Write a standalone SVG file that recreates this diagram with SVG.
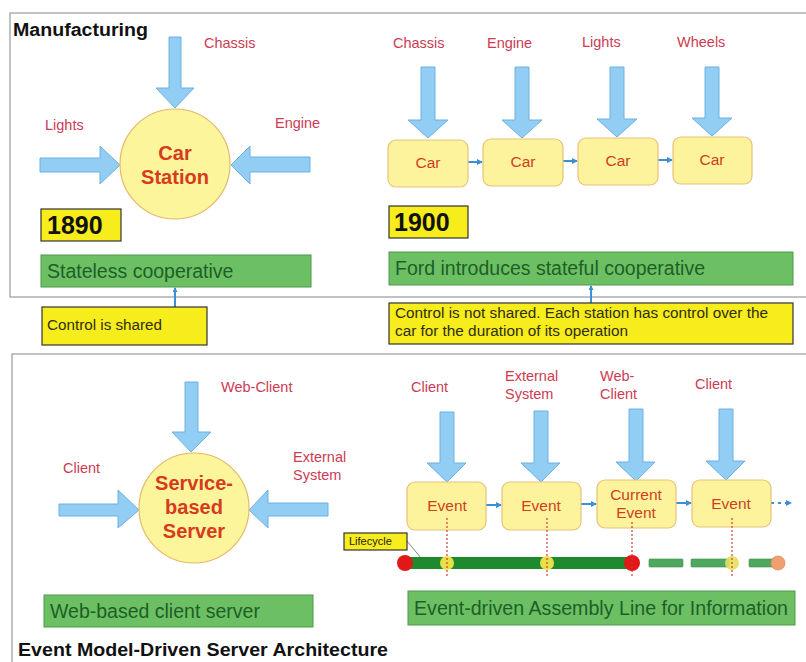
<svg xmlns="http://www.w3.org/2000/svg" width="806" height="662" viewBox="0 0 806 662">
<style>
text{font-family:"Liberation Sans",Arial,sans-serif}
.panel{fill:none;stroke:#9a9a9a;stroke-width:1.2}
.big{fill:#92cdf3;stroke:#6db0e2;stroke-width:1}
.circ{fill:#fcf59c;stroke:#e6b86a;stroke-width:1.2}
.box{fill:#fdf39c;stroke:#e8c27a;stroke-width:1.2}
.lbl{fill:#cc3b52;font-size:14.5px}
.ctr{fill:#d83a1e;font-weight:bold;font-size:20px;text-anchor:middle}
.car{fill:#d0401c;font-size:15.5px;text-anchor:middle}
.green{fill:#6cbf63;stroke:#4f9a4c;stroke-width:1}
.gt{fill:#1d5f27;font-size:19.5px}
.yel{fill:#f7ec1c;stroke:#333;stroke-width:1.2}
.yt{fill:#2e2e10;font-size:14px}
.year{fill:#111;font-size:25px;font-weight:bold}
.conn{stroke:#3b8fd4;stroke-width:2;fill:none}
.dot{stroke:#d23a3a;stroke-width:1.2;stroke-dasharray:2 2;fill:none}
</style>
<defs>
<marker id="ah" markerWidth="6" markerHeight="6" refX="5" refY="3" orient="auto" markerUnits="userSpaceOnUse">
<path d="M0,0 L6,3 L0,6 z" fill="#3b8fd4"/>
</marker>
<marker id="ahs" markerWidth="5" markerHeight="5" refX="4" refY="2.5" orient="auto" markerUnits="userSpaceOnUse">
<path d="M0,0 L5,2.5 L0,5 z" fill="#3b8fd4"/>
</marker>
</defs>

<!-- panels -->
<rect class="panel" x="10" y="13" width="810" height="284"/>
<rect class="panel" x="12" y="354" width="810" height="330"/>
<text x="13" y="36" font-size="18" font-weight="bold" fill="#111" textLength="135" lengthAdjust="spacingAndGlyphs">Manufacturing</text>
<text x="18" y="656" font-size="18" font-weight="bold" fill="#111" textLength="370" lengthAdjust="spacingAndGlyphs">Event Model-Driven Server Architecture</text>

<!-- connectors -->
<g id="connectors">
<line class="conn" x1="468" y1="162" x2="482" y2="162" marker-end="url(#ah)"/>
<line class="conn" x1="563" y1="161" x2="577" y2="161" marker-end="url(#ah)"/>
<line class="conn" x1="658" y1="160" x2="672" y2="160" marker-end="url(#ah)"/>
<line class="conn" x1="175" y1="307" x2="175" y2="288" stroke-width="1.2" marker-end="url(#ahs)"/>
<line class="conn" x1="591" y1="303" x2="591" y2="286" stroke-width="1.2" marker-end="url(#ahs)"/>
<line class="conn" x1="486" y1="505" x2="501" y2="505" marker-end="url(#ah)"/>
<line class="conn" x1="581" y1="504" x2="596" y2="504" marker-end="url(#ah)"/>
<line class="conn" x1="676" y1="503" x2="691" y2="503" marker-end="url(#ah)"/>
<line class="conn" x1="771" y1="503" x2="791" y2="503" stroke-dasharray="3 4" marker-end="url(#ah)"/>
<line x1="407" y1="541" x2="421" y2="558" stroke="#666" stroke-width="0.8"/>
</g>

<!-- 1890 -->
<g id="station1890">
<polygon class="big" points="169,37 181,37 181,88 194,88 175,108 156,88 169,88"/>
<text class="lbl" x="204" y="48">Chassis</text>
<polygon class="big" points="40,158 100,158 100,146 120,165 100,184 100,172 40,172"/>
<text class="lbl" x="45" y="130">Lights</text>
<polygon class="big" points="310,157 250,157 250,146 231,165 250,184 250,172 310,172"/>
<text class="lbl" x="275" y="128">Engine</text>
<circle class="circ" cx="175" cy="164" r="55"/>
<text class="ctr" x="175" y="160">Car</text>
<text class="ctr" x="175" y="184">Station</text>
</g>
<g id="year1890"><rect class="yel" x="41" y="209" width="80" height="32"/><text class="year" x="47" y="234">1890</text></g>
<g id="stateless"><rect class="green" x="41" y="255" width="270" height="32"/><text class="gt" x="47" y="278">Stateless cooperative</text></g>
<g id="shared"><rect class="yel" x="42" y="307" width="165" height="38"/><text class="yt" x="47" y="330" textLength="115" lengthAdjust="spacingAndGlyphs">Control is shared</text></g>

<!-- 1900 -->
<g id="line1900">
<text class="lbl" x="393" y="48">Chassis</text>
<text class="lbl" x="487" y="48">Engine</text>
<text class="lbl" x="582" y="47">Lights</text>
<text class="lbl" x="677" y="47">Wheels</text>
<polygon class="big" points="421,67 435,67 435,120 448,120 428,138 408,120 421,120"/>
<polygon class="big" points="515,67 529,67 529,120 542,120 522,138 502,120 515,120"/>
<polygon class="big" points="610,67 624,67 624,119 637,119 617,137 597,119 610,119"/>
<polygon class="big" points="705,67 719,67 719,118 732,118 712,136 692,118 705,118"/>
</g>
<g id="car1"><rect class="box" x="388" y="140" width="80" height="47" rx="8"/><text class="car" x="428" y="168">Car</text></g>
<g id="car2"><rect class="box" x="483" y="139" width="80" height="47" rx="8"/><text class="car" x="523" y="167">Car</text></g>
<g id="car3"><rect class="box" x="578" y="138" width="80" height="47" rx="8"/><text class="car" x="618" y="166">Car</text></g>
<g id="car4"><rect class="box" x="673" y="137" width="79" height="47" rx="8"/><text class="car" x="712" y="165">Car</text></g>
<g id="year1900"><rect class="yel" x="389" y="206" width="79" height="32"/><text class="year" x="394" y="231">1900</text></g>
<g id="ford"><rect class="green" x="389" y="252" width="404" height="33"/><text class="gt" x="395" y="275">Ford introduces stateful cooperative</text></g>
<g id="notshared"><rect class="yel" x="389" y="303" width="404" height="41"/><text class="yt" x="395" y="318" textLength="373" lengthAdjust="spacingAndGlyphs">Control is not shared. Each station has control over the</text><text class="yt" x="395" y="336" textLength="233" lengthAdjust="spacingAndGlyphs">car for the duration of its operation</text></g>

<!-- service-based server -->
<g id="server">
<polygon class="big" points="185,382 198,382 198,432 211,432 191,452 172,432 185,432"/>
<text class="lbl" x="221" y="392">Web-Client</text>
<polygon class="big" points="59,504 118,504 118,490 139,510 118,528 118,516 59,516"/>
<text class="lbl" x="63" y="473">Client</text>
<polygon class="big" points="328,503 268,503 268,490 249,510 268,528 268,516 328,516"/>
<text class="lbl" x="293" y="462">External</text>
<text class="lbl" x="293" y="480">System</text>
<circle class="circ" cx="194" cy="508" r="55"/>
<text class="ctr" x="194" y="490">Service-</text>
<text class="ctr" x="194" y="514">based</text>
<text class="ctr" x="194" y="538">Server</text>
</g>
<g id="webbased"><rect class="green" x="44" y="595" width="269" height="32"/><text class="gt" x="50" y="618">Web-based client server</text></g>

<!-- event line -->
<g id="sources">
<text class="lbl" x="411" y="392">Client</text>
<text class="lbl" x="505" y="381">External</text>
<text class="lbl" x="505" y="399">System</text>
<text class="lbl" x="600" y="381">Web-</text>
<text class="lbl" x="600" y="399">Client</text>
<text class="lbl" x="695" y="389">Client</text>
<polygon class="big" points="440,412 454,412 454,463 466,463 447,482 427,463 440,463"/>
<polygon class="big" points="534,411 548,411 548,463 560,463 541,482 521,463 534,463"/>
<polygon class="big" points="629,409 643,409 643,462 655,462 636,481 616,462 629,462"/>
<polygon class="big" points="719,409 733,409 733,461 745,461 726,480 706,461 719,461"/>
</g>
<g id="event1"><rect class="box" x="407" y="482" width="79" height="48" rx="8"/><text class="car" x="447" y="511">Event</text></g>
<g id="event2"><rect class="box" x="502" y="482" width="79" height="48" rx="8"/><text class="car" x="541" y="511">Event</text></g>
<g id="event3"><rect class="box" x="597" y="480" width="79" height="48" rx="8"/><text class="car" x="636" y="500">Current</text><text class="car" x="636" y="518">Event</text></g>
<g id="event4"><rect class="box" x="692" y="480" width="79" height="47" rx="8"/><text class="car" x="731" y="509">Event</text></g>

<g id="lifecycle">
<rect x="405" y="557" width="227" height="12" fill="#1e8a2e"/>
<rect x="649" y="559" width="34" height="8" rx="1" fill="#4fa860" stroke="#3b8a48" stroke-width="0.6"/>
<rect x="691" y="559" width="38" height="8" rx="1" fill="#4fa860" stroke="#3b8a48" stroke-width="0.6"/>
<rect x="749" y="559" width="28" height="8" rx="1" fill="#4fa860" stroke="#3b8a48" stroke-width="0.6"/>
<circle cx="405" cy="563" r="8" fill="#e01818"/>
<circle cx="447" cy="563" r="7" fill="#f1e64a" opacity="0.95"/>
<circle cx="547" cy="563" r="7" fill="#f1e64a" opacity="0.95"/>
<circle cx="632" cy="563" r="8" fill="#e01818"/>
<circle cx="732" cy="563" r="7" fill="#e6e05a" opacity="0.9"/>
<circle cx="778" cy="563" r="7" fill="#f0a070" stroke="#e08a55" stroke-width="0.8"/>
<line class="dot" x1="447" y1="518" x2="447" y2="578"/>
<line class="dot" x1="547" y1="518" x2="547" y2="578"/>
<line class="dot" x1="632" y1="522" x2="632" y2="578"/>
<line class="dot" x1="732" y1="518" x2="732" y2="578"/>
<rect class="yel" x="344" y="533" width="63" height="17" stroke-width="1"/>
<text x="349" y="545" font-size="11" fill="#222">Lifecycle</text>
</g>
<g id="eventdriven"><rect class="green" x="408" y="591" width="387" height="34"/><text class="gt" x="414" y="615" textLength="374" lengthAdjust="spacingAndGlyphs">Event-driven Assembly Line for Information</text></g>
</svg>
